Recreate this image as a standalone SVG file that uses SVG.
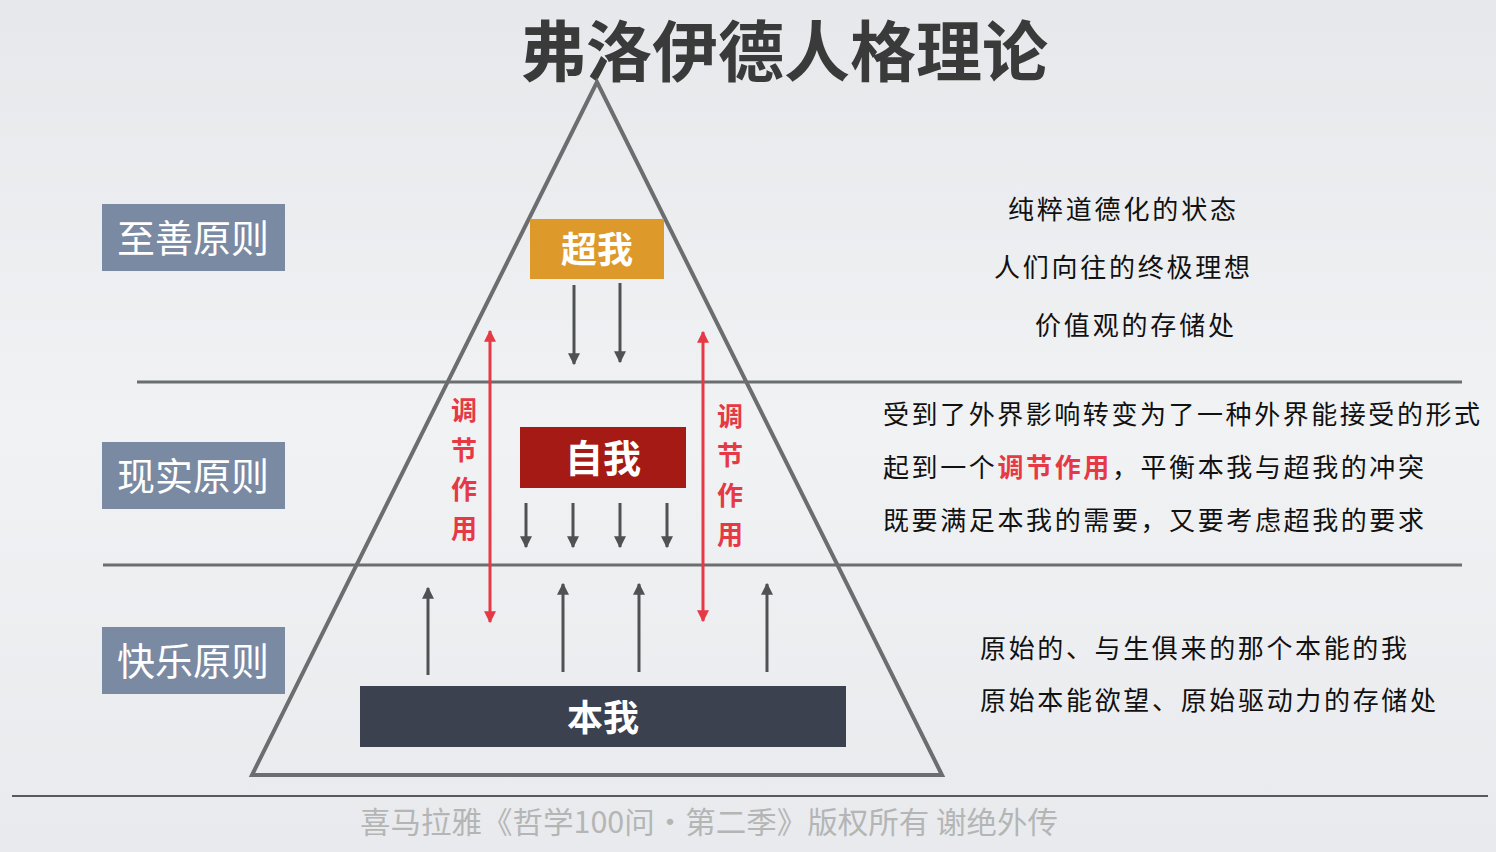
<svg xmlns="http://www.w3.org/2000/svg" width="1496" height="852" viewBox="0 0 1496 852">
<defs>
<linearGradient id="bg" x1="0" y1="0" x2="0" y2="1"><stop offset="0" stop-color="#e6e8eb"/><stop offset="0.5" stop-color="#f1f2f4"/><stop offset="1" stop-color="#e9eaed"/></linearGradient>
<marker id="ag" viewBox="0 0 10 10" refX="9" refY="5" markerWidth="4" markerHeight="4" orient="auto-start-reverse"><path d="M0,0L10,5L0,10z" fill="#4e5252"/></marker>
<marker id="ar" viewBox="0 0 10 10" refX="9" refY="5" markerWidth="4" markerHeight="4" orient="auto-start-reverse"><path d="M0,0L10,5L0,10z" fill="#e63946"/></marker>
</defs>
<style>
text{font-family:"Noto Sans CJK SC","Noto Sans",sans-serif}
.lab{fill:#fff;font-size:38px}
.desc{fill:#111;font-size:26px}
.red{fill:#e63946;font-size:26px;font-weight:bold}
.g{stroke:#4e5252;stroke-width:3;fill:none}
.r{stroke:#e63946;stroke-width:3;fill:none}
.sk{stroke:#6b6e6e;fill:none}
</style>
<rect width="1496" height="852" fill="url(#bg)"/>
<text x="784" y="76" text-anchor="middle" font-size="66" font-weight="bold" fill="#3a3a3a">弗洛伊德人格理论</text>
<g id="frame">
<path class="sk" stroke-width="4" d="M597,82 L252,775 L942,775 Z"/>
<line class="sk" stroke-width="3" x1="137" y1="382" x2="1462" y2="382"/>
<line class="sk" stroke-width="3" x1="103" y1="565" x2="1462" y2="565"/>
<line stroke="#555a5a" stroke-width="2" x1="12" y1="796" x2="1488" y2="796"/>
</g>
<g id="p1"><rect x="102" y="204" width="183" height="67" fill="#7a8aa3"/><text class="lab" x="193" y="252" text-anchor="middle">至善原则</text></g>
<g id="p2"><rect x="102" y="442" width="183" height="67" fill="#7a8aa3"/><text class="lab" x="193" y="490" text-anchor="middle">现实原则</text></g>
<g id="p3"><rect x="102" y="627" width="183" height="67" fill="#7a8aa3"/><text class="lab" x="193" y="675" text-anchor="middle">快乐原则</text></g>
<g id="superego"><rect x="530" y="219" width="134" height="60" fill="#dd9a2b"/><text x="597" y="263" text-anchor="middle" fill="#fff" font-size="36" font-weight="bold">超我</text></g>
<g id="ego"><rect x="520" y="427" width="166" height="61" fill="#a51a14"/><text x="603" y="472" text-anchor="middle" fill="#fff" font-size="38" font-weight="bold">自我</text></g>
<g id="id"><rect x="360" y="686" width="486" height="61" fill="#3b414e"/><text x="603" y="731" text-anchor="middle" fill="#fff" font-size="36" font-weight="bold">本我</text></g>
<g id="connectors">
<line class="g" x1="574" y1="285" x2="574" y2="364" marker-end="url(#ag)"/>
<line class="g" x1="620" y1="283" x2="620" y2="362" marker-end="url(#ag)"/>
<line class="g" x1="526" y1="503" x2="526" y2="547" marker-end="url(#ag)"/>
<line class="g" x1="573" y1="503" x2="573" y2="547" marker-end="url(#ag)"/>
<line class="g" x1="620" y1="503" x2="620" y2="547" marker-end="url(#ag)"/>
<line class="g" x1="667" y1="503" x2="667" y2="547" marker-end="url(#ag)"/>
<line class="g" x1="428" y1="675" x2="428" y2="588" marker-end="url(#ag)"/>
<line class="g" x1="563" y1="672" x2="563" y2="584" marker-end="url(#ag)"/>
<line class="g" x1="639" y1="672" x2="639" y2="584" marker-end="url(#ag)"/>
<line class="g" x1="767" y1="672" x2="767" y2="584" marker-end="url(#ag)"/>
<line class="r" x1="490" y1="331" x2="490" y2="622" marker-start="url(#ar)" marker-end="url(#ar)"/>
<line class="r" x1="703" y1="332" x2="703" y2="621" marker-start="url(#ar)" marker-end="url(#ar)"/>
</g>
<g id="reg-left"><text class="red" x="464" y="420" text-anchor="middle">调</text><text class="red" x="464" y="460" text-anchor="middle">节</text><text class="red" x="464" y="499" text-anchor="middle">作</text><text class="red" x="464" y="538" text-anchor="middle">用</text></g>
<g id="reg-right"><text class="red" x="730" y="426" text-anchor="middle">调</text><text class="red" x="730" y="465" text-anchor="middle">节</text><text class="red" x="730" y="505" text-anchor="middle">作</text><text class="red" x="730" y="544" text-anchor="middle">用</text></g>
<g id="desc1"><text class="desc" x="1008" y="219" textLength="228">纯粹道德化的状态</text><text class="desc" x="994" y="277" textLength="256">人们向往的终极理想</text><text class="desc" x="1035" y="335" textLength="199">价值观的存储处</text></g>
<g id="desc2"><text class="desc" x="883" y="424" textLength="597">受到了外界影响转变为了一种外界能接受的形式</text><text class="desc" x="883" y="477" textLength="541">起到一个<tspan fill="#e63946" font-weight="bold">调节作用</tspan>，平衡本我与超我的冲突</text><text class="desc" x="883" y="530" textLength="541">既要满足本我的需要，又要考虑超我的要求</text></g>
<g id="desc3"><text class="desc" x="980" y="658" textLength="427">原始的、与生俱来的那个本能的我</text><text class="desc" x="980" y="710" textLength="456">原始本能欲望、原始驱动力的存储处</text></g>
<text x="360" y="833" font-size="30" fill="#b4b6b6" textLength="698" lengthAdjust="spacingAndGlyphs">喜马拉雅《哲学100问·第二季》版权所有 谢绝外传</text>
</svg>
